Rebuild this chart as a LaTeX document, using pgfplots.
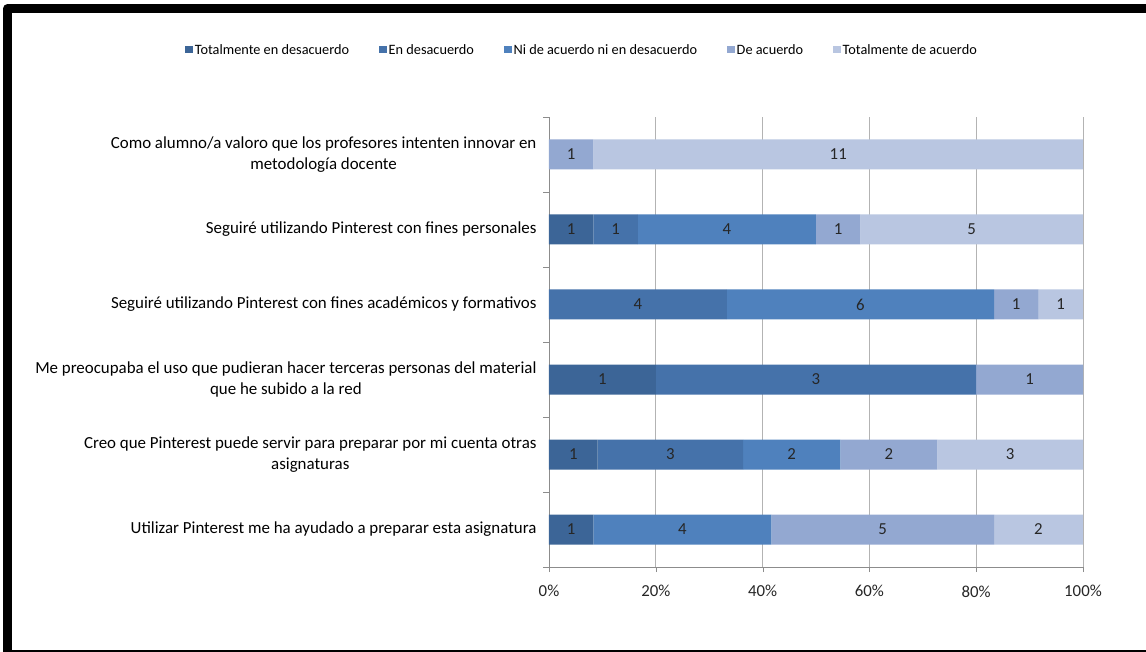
\documentclass[border=0pt]{standalone}
\usepackage{fontspec}
\setmainfont{Carlito}
\usepackage{pgfplots}
\pgfplotsset{compat=1.18}

\definecolor{tdes}{HTML}{3C6597}
\definecolor{des}{HTML}{4572AA}
\definecolor{neu}{HTML}{4F81BD}
\definecolor{acu}{HTML}{93A8D1}
\definecolor{tacu}{HTML}{B9C6E1}
\definecolor{gridgray}{HTML}{B3B3B3}
\definecolor{axgray}{HTML}{8C8C8C}
\definecolor{txt}{HTML}{262626}

\begin{document}
\begin{tikzpicture}
\useasboundingbox (0,0) rectangle (1146pt,-652pt);
% marco negro
\draw[line width=8.5pt, line join=round] (7.5pt,-665pt) -- (7.5pt,-8.5pt) -- (1160pt,-8.5pt);
\draw[line width=2pt] (3pt,-651pt) -- (1146pt,-651pt);

\begin{axis}[
  at={(549pt,-567pt)}, anchor=south west,
  scale only axis, width=534pt, height=450pt,
  xbar stacked, bar width=30pt,
  xmin=0, xmax=100, ymin=-0.5, ymax=5.5,
  axis lines=left, axis line style={-, draw=axgray},
  tick align=outside,
  major tick length=5pt, minor tick length=6pt,
  tick style={axgray},
  xtick={0,20,...,100},
  xticklabel={\pgfmathprintnumber{\tick}\%},
  xmajorgrids, grid style={gridgray, line width=0.8pt},
  ytick={0,...,5},
  minor ytick={-0.5,0.5,...,5.5},
  major y tick style={draw=none},
  yticklabels={
    {Utilizar Pinterest me ha ayudado a preparar esta asignatura},
    {Creo que Pinterest puede servir para preparar por mi cuenta otras\\asignaturas},
    {Me preocupaba el uso que pudieran hacer terceras personas del material\\que he subido a la red},
    {Seguiré utilizando Pinterest con fines académicos y formativos},
    {Seguiré utilizando Pinterest con fines personales},
    {Como alumno/a valoro que los profesores intenten innovar en\\metodología docente}},
  yticklabel style={align=center, font=\fontsize{16.9}{21}\selectfont, text=black, xshift=-4pt},
  xticklabel style={font=\fontsize{16.8}{20}\selectfont, text=txt, yshift=-10pt},
  /pgf/number format/assume math mode=true,
  nodes near coords,
  point meta=explicit symbolic,
  nodes near coords align={center},
  every node near coord/.append style={anchor=center,
    font=\fontsize{16.8}{20}\selectfont, text=txt},
  legend style={at={(rel axis cs:0.062,1.149)}, anchor=center, legend columns=-1, draw=none,
    font=\fontsize{14.3}{17}\selectfont, nodes={inner xsep=2pt},
    /tikz/every even column/.append style={column sep=28pt}},
  legend image code/.code={\draw[#1, draw=none] (0pt,-3.5pt) rectangle (7.5pt,4pt);},
]
% porcentajes por fila, etiqueta = numero de respuestas
\addplot[fill=tdes, draw=none] coordinates {
  (8.333,0) [1] (9.091,1) [1] (20,2) [1] (0,3) [] (8.333,4) [1] (0,5) []};
\addplot[fill=des, draw=none] coordinates {
  (0,0) [] (27.273,1) [3] (60,2) [3] (33.333,3) [4] (8.333,4) [1] (0,5) []};
\addplot[fill=neu, draw=none] coordinates {
  (33.333,0) [4] (18.182,1) [2] (0,2) [] (50,3) [6] (33.333,4) [4] (0,5) []};
\addplot[fill=acu, draw=none] coordinates {
  (41.667,0) [5] (18.182,1) [2] (20,2) [1] (8.333,3) [1] (8.333,4) [1] (8.333,5) [1]};
\addplot[fill=tacu, draw=none] coordinates {
  (16.666,0) [2] (27.272,1) [3] (0,2) [] (8.333,3) [1] (41.667,4) [5] (91.666,5) [11]};
\legend{Totalmente en desacuerdo, En desacuerdo, Ni de acuerdo ni en desacuerdo, De acuerdo, Totalmente de acuerdo}
\end{axis}
\end{tikzpicture}
\end{document}
